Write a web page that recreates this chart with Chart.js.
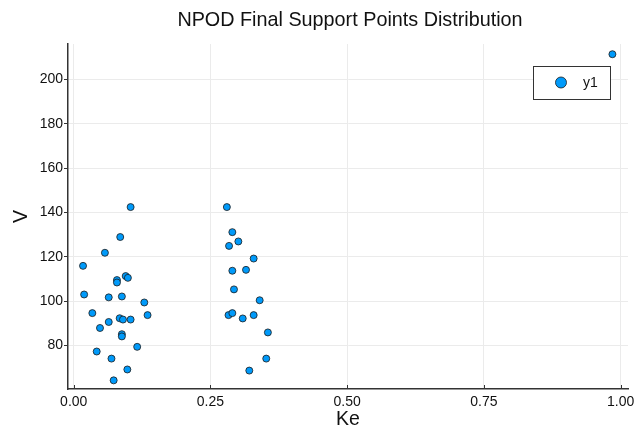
<!DOCTYPE html>
<html>
<head>
<meta charset="utf-8">
<title>NPOD Final Support Points Distribution</title>
<script src="https://cdn.jsdelivr.net/npm/chart.js@4.4.1/dist/chart.umd.min.js"></script>
<style>
  html, body { margin: 0; padding: 0; background: #fff; }
  #wrap { width: 644px; height: 432px; }
</style>
</head>
<body>
<div id="wrap"><canvas id="chart" width="644" height="432"></canvas></div>
<script>
// Support points (Ke, V)
var keValues = [
    0.104, 0.085, 0.057, 0.017, 0.095, 0.099, 0.079, 0.079, 0.019, 0.064,
    0.088, 0.129, 0.034, 0.135, 0.084, 0.090, 0.104, 0.064, 0.048, 0.088,
    0.088, 0.116, 0.042, 0.069, 0.098, 0.073,
    0.280, 0.290, 0.301, 0.284, 0.329, 0.290, 0.315, 0.293, 0.340, 0.283,
    0.290, 0.309, 0.329, 0.355, 0.352, 0.321,
    0.985
];
var vValues = [
    142.4, 128.9, 121.8, 115.9, 111.3, 110.5, 109.5, 108.4, 103.0, 101.7,
    102.1, 99.4, 94.6, 93.7, 92.3, 91.7, 91.7, 90.6, 87.9, 85.1,
    84.1, 79.4, 77.3, 74.1, 69.2, 64.3,
    142.4, 131.1, 126.9, 124.9, 119.2, 113.7, 114.1, 105.3, 100.4, 93.7,
    94.6, 92.2, 93.7, 85.9, 74.1, 68.7,
    211.3
];
var seriesLabel = 'y1';
var xTicks = [0, 0.25, 0.5, 0.75, 1.0];
var yTicks = [80, 100, 120, 140, 160, 180, 200];

var chartTitle = 'NPOD Final Support Points Distribution';
var fontFamily = '"Liberation Sans", Arial, Helvetica, sans-serif';
var pointFill = '#009afa';

var points = keValues.map(function(k, i) { return {x: k, y: vValues[i]}; });

// Title centred over the plot area, like the original
var plotTitle = {
    id: 'plotTitle',
    afterDraw: function(chart) {
        var ctx = chart.ctx, area = chart.chartArea;
        ctx.save();
        ctx.font = '19.8px ' + fontFamily;
        ctx.fillStyle = '#111';
        ctx.textAlign = 'center';
        ctx.textBaseline = 'middle';
        ctx.fillText(chartTitle, (area.left + area.right) / 2 + 2, 21);
        ctx.restore();
    }
};

// Short tick marks pointing into the plot from the x axis
var innerTicks = {
    id: 'innerTicks',
    afterDraw: function(chart) {
        var ctx = chart.ctx, xs = chart.scales.x, area = chart.chartArea;
        ctx.save();
        ctx.strokeStyle = '#333';
        ctx.lineWidth = 1;
        xTicks.forEach(function(v) {
            var px = Math.round(xs.getPixelForValue(v)) + 0.5;
            ctx.beginPath();
            ctx.moveTo(px, area.bottom);
            ctx.lineTo(px, area.bottom - 4);
            ctx.stroke();
        });
        ctx.restore();
    }
};

// Framed legend inside the top right corner
var boxLegend = {
    id: 'boxLegend',
    afterDraw: function(chart) {
        var ctx = chart.ctx, area = chart.chartArea;
        var ds = chart.data.datasets[0];
        var w = 77, h = 33;
        var x = area.right - 18 - w, y = area.top + 22;
        ctx.save();
        ctx.fillStyle = '#fff';
        ctx.fillRect(x, y, w, h);
        ctx.strokeStyle = '#333';
        ctx.lineWidth = 1;
        ctx.strokeRect(x + 0.5, y + 0.5, w, h);
        ctx.beginPath();
        ctx.arc(x + 28, y + 16.5, 5.5, 0, Math.PI * 2);
        ctx.fillStyle = ds.backgroundColor;
        ctx.fill();
        ctx.lineWidth = 0.8;
        ctx.strokeStyle = ds.borderColor;
        ctx.stroke();
        ctx.font = '14px ' + fontFamily;
        ctx.fillStyle = '#111';
        ctx.textAlign = 'left';
        ctx.textBaseline = 'middle';
        ctx.fillText(ds.label, x + 50, y + 17);
        ctx.restore();
    }
};

new Chart(document.getElementById('chart'), {
    type: 'scatter',
    data: {
        datasets: [{
            label: seriesLabel,
            data: points,
            backgroundColor: pointFill,
            borderColor: '#1a1a1a',
            borderWidth: 0.8,
            pointRadius: 3.5,
            pointHoverRadius: 3.5
        }]
    },
    options: {
        responsive: false,
        animation: false,
        layout: {padding: {left: 0, right: 16, top: 44, bottom: 0}},
        plugins: {
            legend: {display: false},
            title: {display: false},
            tooltip: {enabled: false}
        },
        scales: {
            x: {
                type: 'linear',
                min: -0.0105,
                max: 1.0135,
                afterBuildTicks: function(scale) {
                    scale.ticks = xTicks.map(function(v) { return {value: v}; });
                },
                afterFit: function(scale) { scale.height = 43; },
                grid: {color: '#ebebeb', lineWidth: 1, drawTicks: false},
                border: {color: '#333', width: 1.5},
                ticks: {
                    padding: 5,
                    color: '#111',
                    font: {family: fontFamily, size: 14},
                    maxRotation: 0,
                    callback: function(v) { return v.toFixed(2); }
                },
                title: {
                    display: true,
                    text: 'Ke',
                    color: '#111',
                    font: {family: fontFamily, size: 19.5},
                    padding: {top: 0, bottom: 1}
                }
            },
            y: {
                type: 'linear',
                min: 60.4,
                max: 215.9,
                afterBuildTicks: function(scale) {
                    scale.ticks = yTicks.map(function(v) { return {value: v}; });
                },
                afterFit: function(scale) { scale.width = 68; },
                grid: {color: '#ebebeb', lineWidth: 1, drawTicks: true, tickLength: 4, tickColor: '#333'},
                border: {color: '#333', width: 1.5},
                ticks: {
                    padding: 1,
                    color: '#111',
                    font: {family: fontFamily, size: 14}
                },
                title: {
                    display: true,
                    text: 'V',
                    color: '#111',
                    font: {family: fontFamily, size: 19.5},
                    padding: {top: 10, bottom: 0}
                }
            }
        }
    },
    plugins: [plotTitle, innerTicks, boxLegend]
});
</script>
</body>
</html>
